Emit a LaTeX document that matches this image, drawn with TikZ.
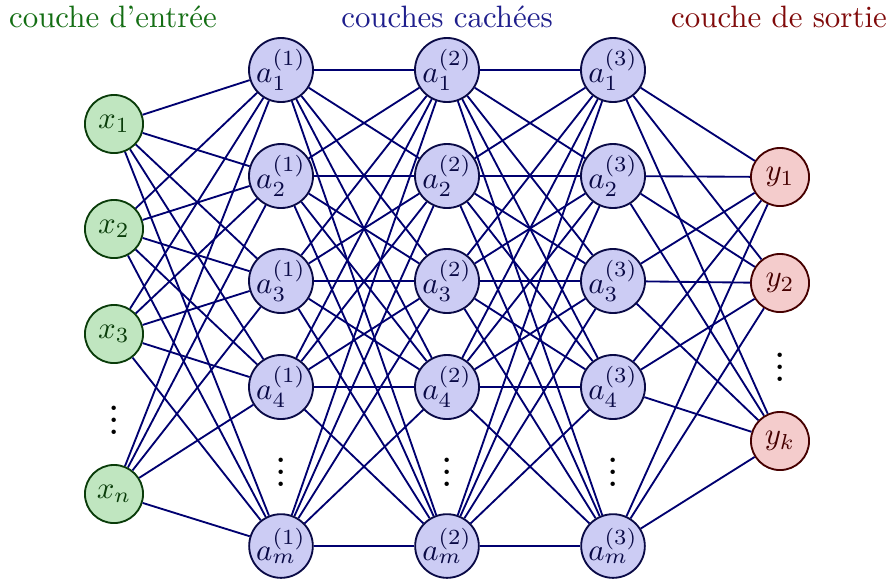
\documentclass[tikz,border=0pt]{standalone}
\usetikzlibrary{calc}
\definecolor{ingreen}{RGB}{192,230,192}
\definecolor{ingreenD}{RGB}{10,60,10}
\definecolor{hidfill}{RGB}{204,204,244}
\definecolor{hidD}{RGB}{10,10,70}
\definecolor{outfill}{RGB}{244,204,204}
\definecolor{outD}{RGB}{70,0,0}
\definecolor{edgec}{RGB}{0,0,112}
\definecolor{lblgreen}{RGB}{20,110,20}
\definecolor{lblblue}{RGB}{30,30,140}
\definecolor{lblred}{RGB}{128,10,10}
\begin{document}
\begin{tikzpicture}[x=0.3236pt,y=-0.3236pt,
  innode/.style={circle,draw=ingreenD,fill=ingreen,text=ingreenD,line width=0.6pt,minimum size=18.8pt,inner sep=0pt},
  hidnode/.style={circle,draw=hidD,fill=hidfill,text=hidD,line width=0.6pt,minimum size=20.6pt,inner sep=0pt},
  outnode/.style={circle,draw=outD,fill=outfill,text=outD,line width=0.6pt,minimum size=18.8pt,inner sep=0pt},
  conn/.style={draw=edgec,line width=0.6pt},
  lbl/.style={inner sep=0pt},
  vdot/.style={inner sep=0pt,font=\LARGE}]
\useasboundingbox (0,0) rectangle (890,578);
% labels
\node[lbl,text=lblgreen] (lin) at (113,17) {couche d'entrée};
\node[lbl,text=lblblue] (lhid) at (447,17) {couches cachées};
\node[lbl,text=lblred] (lout) at (779,17) {couche de sortie};
% input nodes
\node[innode] (x1) at (114,124) {$x_1$};
\node[innode] (x2) at (114,229) {$x_2$};
\node[innode] (x3) at (114,334) {$x_3$};
\node[innode] (xn) at (114,494) {$x_n$};
\node[vdot] (dx) at (114,411) {$\vdots$};
% hidden layers
\foreach \L/\X in {1/281,2/447,3/613}{
  \node[hidnode] (h\L-1) at (\X,70) {$a_1^{(\L)}$};
  \node[hidnode] (h\L-2) at (\X,176) {$a_2^{(\L)}$};
  \node[hidnode] (h\L-3) at (\X,281) {$a_3^{(\L)}$};
  \node[hidnode] (h\L-4) at (\X,387) {$a_4^{(\L)}$};
  \node[hidnode] (h\L-5) at (\X,546) {$a_m^{(\L)}$};
  \node[vdot] (dh\L) at (\X,463) {$\vdots$};
}
% output nodes
\node[outnode] (y1) at (780,177) {$y_1$};
\node[outnode] (y2) at (780,283) {$y_2$};
\node[outnode] (yk) at (780,441) {$y_k$};
\node[vdot] (dy) at (780,358) {$\vdots$};
% connections
\foreach \i in {x1,x2,x3,xn}{
  \foreach \j in {1,...,5}{ \draw[conn] (\i) -- (h1-\j); }
}
\foreach \i in {1,...,5}{
  \foreach \j in {1,...,5}{
    \draw[conn] (h1-\i) -- (h2-\j);
    \draw[conn] (h2-\i) -- (h3-\j);
  }
  \foreach \k in {y1,y2,yk}{ \draw[conn] (h3-\i) -- (\k); }
}
\end{tikzpicture}
\end{document}
